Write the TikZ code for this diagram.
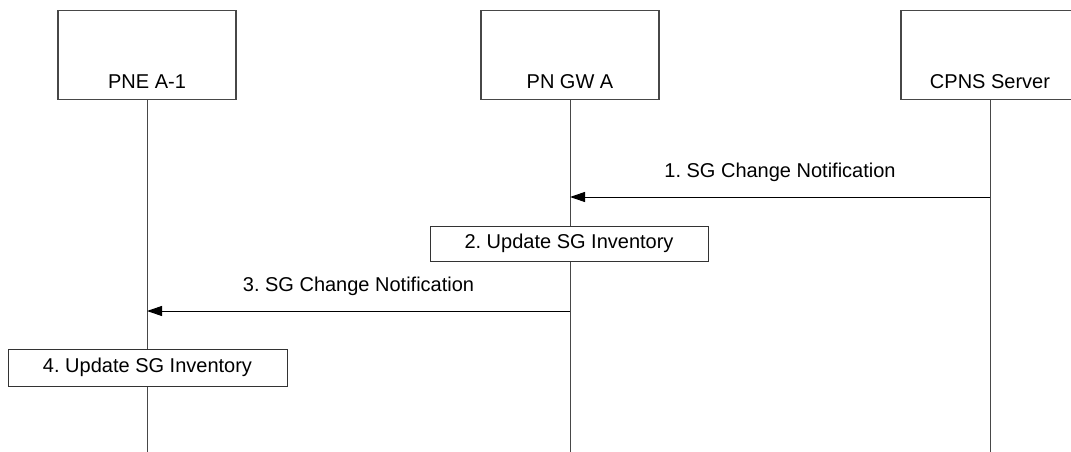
\documentclass[tikz,border=0pt]{standalone}
\usepackage{fontspec}
\setmainfont{Liberation Sans}
\usetikzlibrary{arrows.meta}
\frenchspacing
\begin{document}
\begin{tikzpicture}[x=1pt,y=-1pt,
  every node/.style={font=\fontsize{20pt}{24pt}\selectfont, inner sep=0pt},
  actorbox/.style={draw=black!72, line width=1.1pt, minimum width=178pt, minimum height=89pt, anchor=north, fill=white},
  actorlabel/.style={anchor=base},
  life/.style={draw=black!72, line width=1pt},
  actionbox/.style={draw=black!80, line width=1pt, fill=white, minimum width=278pt, minimum height=35pt},
  msg/.style={draw=black, line width=1pt, -{Triangle[length=15pt,width=10pt]}},
  msglabel/.style={midway, anchor=base, yshift=20pt}]
\useasboundingbox (0,0) rectangle (1071,452);
% actors
\node[actorbox] (pne) at (147,10) {};
\node[actorbox] (gw) at (570,10) {};
\node[actorbox] (cpns) at (990,10) {};
\node[actorlabel] (pnel) at ([yshift=12pt]pne.south) {PNE A-1};
\node[actorlabel] (gwl) at ([yshift=12pt]gw.south) {PN GW A};
\node[actorlabel] (cpnsl) at ([yshift=12pt]cpns.south) {CPNS Server};
% lifeline ends
\coordinate (pneend) at (pne.south |- 0,452);
\coordinate (gwend) at (gw.south |- 0,452);
\coordinate (cpnsend) at (cpns.south |- 0,452);
\draw[life] (pne.south) -- (pneend);
\draw[life] (gw.south) -- (gwend);
\draw[life] (cpns.south) -- (cpnsend);
% message 1
\coordinate (m1a) at (cpns.south |- 0,197);
\coordinate (m1b) at (gw.south |- 0,197);
\draw[msg] (m1a) -- node[msglabel] (m1l) {1. SG Change Notification} (m1b);
% action 2
\node[actionbox] (act2) at (569,243.5) {2. Update SG Inventory};
% message 3
\coordinate (m3a) at (gw.south |- 0,311);
\coordinate (m3b) at (pne.south |- 0,311);
\draw[msg] (m3a) -- node[msglabel] (m3l) {3. SG Change Notification} (m3b);
% action 4
\node[actionbox, minimum width=279pt, minimum height=37pt] (act4) at (147.5,367.5) {4. Update SG Inventory};
\end{tikzpicture}
\end{document}
